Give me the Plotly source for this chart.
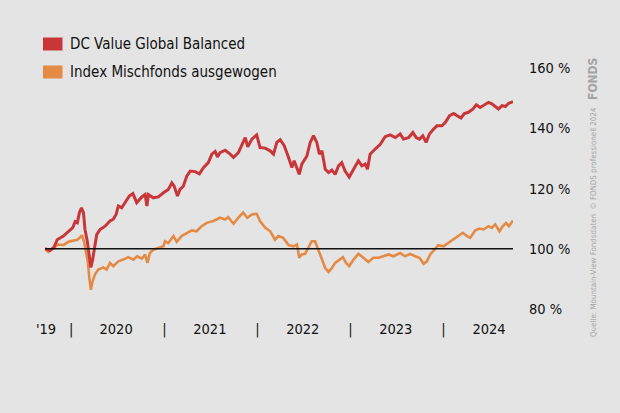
import plotly.graph_objects as go

# ---- data ----
fund_dates = [
    "2019-09-20", "2019-10-10", "2019-10-25", "2019-11-07", "2019-12-01", "2019-12-21",
    "2020-01-07", "2020-01-16", "2020-01-25", "2020-02-02", "2020-02-10", "2020-02-18",
    "2020-02-24", "2020-03-04", "2020-03-12", "2020-03-18", "2020-03-25", "2020-04-01",
    "2020-04-10", "2020-04-23", "2020-05-13", "2020-06-01", "2020-06-14", "2020-06-25",
    "2020-07-04", "2020-07-17", "2020-07-30", "2020-08-16", "2020-08-30", "2020-09-14",
    "2020-10-04", "2020-10-17", "2020-10-24", "2020-10-30", "2020-11-18", "2020-12-08",
    "2020-12-28", "2021-01-16", "2021-01-30", "2021-02-08", "2021-02-21", "2021-03-03",
    "2021-03-16", "2021-03-30", "2021-04-12", "2021-05-01", "2021-05-18", "2021-06-03",
    "2021-06-22", "2021-07-06", "2021-07-19", "2021-07-28", "2021-08-07", "2021-08-27",
    "2021-09-16", "2021-09-29", "2021-10-18", "2021-11-01", "2021-11-14", "2021-11-24",
    "2021-12-10", "2021-12-29", "2022-01-11", "2022-01-31", "2022-02-20", "2022-03-05",
    "2022-03-18", "2022-03-31", "2022-04-16", "2022-05-03", "2022-05-16", "2022-05-25",
    "2022-06-05", "2022-06-14", "2022-06-24", "2022-07-04", "2022-07-14", "2022-07-27",
    "2022-08-09", "2022-08-22", "2022-09-01", "2022-09-11", "2022-09-24", "2022-10-07",
    "2022-10-20", "2022-11-02", "2022-11-15", "2022-11-28", "2022-12-11", "2022-12-27",
    "2023-01-13", "2023-02-01", "2023-02-15", "2023-02-28", "2023-03-09", "2023-03-19",
    "2023-04-08", "2023-04-28", "2023-05-17", "2023-06-06", "2023-06-26", "2023-07-15",
    "2023-07-28", "2023-08-17", "2023-09-03", "2023-09-16", "2023-09-29", "2023-10-12",
    "2023-10-25", "2023-11-07", "2023-11-23", "2023-12-06", "2023-12-26", "2024-01-08",
    "2024-01-25", "2024-02-10", "2024-02-23", "2024-03-10", "2024-03-23", "2024-04-08",
    "2024-04-26", "2024-05-09", "2024-05-24", "2024-06-09", "2024-06-26", "2024-07-09",
    "2024-07-22", "2024-08-04", "2024-08-18", "2024-08-31", "2024-09-13", "2024-09-26",
    "2024-09-30",
]
fund_values = [
    100.0, 99.4, 100.5, 103.0, 104.2, 105.8,
    107.0, 109.0, 108.6, 112.0, 113.6, 112.0,
    106.4, 102.5, 97.0, 93.8, 96.4, 100.3,
    104.7, 106.4, 107.5, 109.2, 109.8, 111.4,
    114.2, 113.6, 115.3, 117.5, 118.3, 115.3,
    117.2, 118.0, 114.2, 118.0, 116.9, 117.2,
    118.6, 119.7, 121.9, 120.8, 117.5, 119.7,
    120.8, 124.2, 125.8, 125.6, 124.9, 126.9,
    128.6, 131.4, 132.3, 130.5, 131.9, 132.7,
    131.4, 130.3, 131.9, 134.7, 136.9, 133.8,
    136.4, 137.8, 133.6, 133.4, 132.5, 131.4,
    135.3, 136.2, 134.2, 130.3, 127.0, 129.2,
    127.0, 124.7, 128.1, 129.4, 130.8, 135.3,
    137.5, 135.3, 131.4, 132.5, 126.4, 125.3,
    126.1, 124.7, 127.5, 128.6, 125.8, 123.8,
    126.4, 129.2, 127.5, 128.1, 126.4, 131.4,
    133.1, 134.7, 137.2, 137.8, 136.9, 138.1,
    136.4, 136.9, 138.6, 136.9, 136.4, 137.5,
    135.3, 138.1, 139.7, 140.8, 140.8, 141.9,
    144.2, 144.9, 144.2, 143.4, 144.9, 145.3,
    146.4, 147.8, 146.9, 147.8, 148.6, 148.1,
    147.2, 146.4, 147.5, 147.2, 148.3, 148.6,
    148.8,
]

index_dates = [
    "2019-09-20", "2019-10-03", "2019-10-23", "2019-11-11", "2019-12-01", "2019-12-21",
    "2020-01-09", "2020-01-25", "2020-02-05", "2020-02-12", "2020-02-20", "2020-02-28",
    "2020-03-06", "2020-03-12", "2020-03-18", "2020-03-25", "2020-04-03", "2020-04-16",
    "2020-05-06", "2020-05-19", "2020-06-01", "2020-06-14", "2020-07-04", "2020-07-23",
    "2020-08-12", "2020-09-01", "2020-09-16", "2020-10-04", "2020-10-17", "2020-10-26",
    "2020-11-05", "2020-11-18", "2020-12-08", "2020-12-28", "2021-01-03", "2021-01-16",
    "2021-02-05", "2021-02-18", "2021-03-09", "2021-03-30", "2021-04-18", "2021-05-07",
    "2021-05-27", "2021-06-16", "2021-07-12", "2021-08-07", "2021-08-27", "2021-09-08",
    "2021-09-29", "2021-10-18", "2021-11-06", "2021-11-22", "2021-12-10", "2021-12-29",
    "2022-01-11", "2022-01-31", "2022-02-20", "2022-03-11", "2022-03-24", "2022-04-12",
    "2022-05-03", "2022-05-22", "2022-06-05", "2022-06-14", "2022-06-24", "2022-07-07",
    "2022-07-20", "2022-08-02", "2022-08-15", "2022-08-28", "2022-09-11", "2022-09-24",
    "2022-10-07", "2022-10-20", "2022-11-02", "2022-11-15", "2022-12-02", "2022-12-15",
    "2022-12-27", "2023-01-13", "2023-02-01", "2023-02-21", "2023-03-12", "2023-04-01",
    "2023-04-21", "2023-05-10", "2023-05-30", "2023-06-19", "2023-07-08", "2023-07-15",
    "2023-08-03", "2023-08-23", "2023-09-12", "2023-09-29", "2023-10-15", "2023-10-28",
    "2023-11-10", "2023-11-25", "2023-12-12", "2024-01-01", "2024-01-20", "2024-02-10",
    "2024-02-29", "2024-03-17", "2024-04-02", "2024-04-15", "2024-05-05", "2024-05-21",
    "2024-06-06", "2024-06-26", "2024-07-09", "2024-07-22", "2024-08-08", "2024-08-21",
    "2024-09-03", "2024-09-14", "2024-09-26", "2024-09-30",
]
index_values = [
    100.0, 98.9, 100.3, 101.4, 101.2, 102.3,
    102.7, 103.0, 103.8, 104.5, 102.5, 99.2,
    95.8, 90.3, 86.4, 89.2, 91.4, 93.1,
    93.8, 93.1, 95.3, 94.2, 95.8, 96.4,
    97.2, 96.4, 97.5, 96.7, 98.1, 95.3,
    98.6, 99.7, 100.3, 100.8, 102.5, 101.9,
    104.2, 102.3, 104.2, 105.3, 106.1, 105.8,
    107.5, 108.6, 109.2, 110.3, 109.7, 110.5,
    108.3, 110.3, 112.0, 110.3, 111.4, 111.6,
    109.2, 107.0, 105.8, 103.0, 104.2, 103.6,
    101.2, 100.8, 101.4, 97.0, 98.1, 98.3,
    100.3, 102.5, 102.5, 99.7, 97.0, 93.6,
    92.3, 93.6, 95.3, 96.1, 97.2, 95.3,
    94.2, 96.4, 98.3, 97.0, 95.6, 97.0,
    97.0, 97.5, 98.1, 97.5, 98.3, 98.6,
    97.5, 98.3, 97.5, 97.0, 95.0, 95.8,
    98.1, 99.7, 101.2, 100.8, 101.9, 103.0,
    104.2, 105.3, 104.2, 103.6, 106.1, 106.7,
    106.4, 107.5, 106.9, 108.1, 105.8, 107.5,
    108.6, 107.5, 108.9, 109.4,
]

series_names = ["DC Value Global Balanced", "Index Mischfonds ausgewogen"]
x_tick_dates = ["2019-09-24", "2020-01-01", "2020-06-25", "2021-01-01", "2021-06-28",
                "2022-01-01", "2022-06-28", "2023-01-01", "2023-06-28", "2024-01-01",
                "2024-06-28"]
x_tick_text = ["'19", "|", "2020", "|", "2021", "|", "2022", "|", "2023", "|", "2024"]
y_tick_vals = [80, 100, 120, 140, 160]
y_tick_text = ["80 %", "100 %", "120 %", "140 %", "160 %"]
baseline = 100

# ---- style ----
RED = "#c9363a"
ORANGE = "#e58a45"
BG = "#e4e4e4"
FONT = "DejaVu Sans Condensed, Liberation Sans Narrow, Roboto Condensed, Arial Narrow, sans-serif"
FS = 14.5

fig = go.Figure()
fig.add_trace(go.Scatter(x=index_dates, y=index_values, mode="lines",
                         line=dict(color=ORANGE, width=2.6), name=series_names[1],
                         showlegend=False))
fig.add_trace(go.Scatter(x=fund_dates, y=fund_values, mode="lines",
                         line=dict(color=RED, width=3), name=series_names[0],
                         showlegend=False))

fig.add_shape(type="line", xref="x domain", yref="y", x0=0, x1=1, y0=baseline, y1=baseline,
              line=dict(color="#111111", width=1.5), layer="above")

# legend (rectangles + text)
PL, PR, PT, PB = 45, 513, 68, 309
W, H = PR - PL, PB - PT
def px(x):
    return (x - PL) / W
def py(y):
    return (PB - y) / H

for i, (col, name) in enumerate([(RED, series_names[0]), (ORANGE, series_names[1])]):
    yc = 44 + 28 * i
    fig.add_shape(type="rect", xref="paper", yref="paper",
                  x0=px(43), x1=px(62.5), y0=py(yc + 6.5), y1=py(yc - 6.5),
                  fillcolor=col, line=dict(width=0))
    fig.add_annotation(xref="paper", yref="paper", x=px(68), y=py(yc), text=name,
                       showarrow=False, xanchor="left", yanchor="middle",
                       font=dict(family=FONT, size=FS + 0.5, color="#111111"))

# vertical source text
fig.add_annotation(xref="paper", yref="paper", x=px(593), y=py(222),
                   text="Quelle: Mountain-View Fondsdaten  \u00a9 FONDS professionell 2024",
                   textangle=-90, showarrow=False, xanchor="center", yanchor="middle",
                   font=dict(family=FONT, size=7.9, color="#a4a4a4"))
fig.add_annotation(xref="paper", yref="paper", x=px(593), y=py(79),
                   text="<b>FONDS</b>", textangle=-90, showarrow=False,
                   xanchor="center", yanchor="middle",
                   font=dict(family=FONT, size=12, color="#a4a4a4"))

fig.update_layout(
    width=620, height=413,
    margin=dict(l=PL, r=620 - PR, t=PT, b=413 - PB, pad=0),
    paper_bgcolor=BG, plot_bgcolor=BG,
    font=dict(family=FONT, size=FS, color="#111111"),
    showlegend=False,
    xaxis=dict(range=["2019-09-20", "2024-09-30"], tickvals=x_tick_dates, ticktext=x_tick_text,
               showgrid=False, zeroline=False, showline=False, ticks="",
               tickfont=dict(family=FONT, size=FS, color="#111111"), ticklabelstandoff=9),
    yaxis=dict(range=[80, 160], side="right", tickvals=y_tick_vals, ticktext=y_tick_text,
               showgrid=False, zeroline=False, showline=False, ticks="",
               tickfont=dict(family=FONT, size=FS, color="#111111"), ticklabelstandoff=15),
)

fig.write_html("out.html", config={"displayModeBar": False},
               post_script="document.body.style.margin='0';")
